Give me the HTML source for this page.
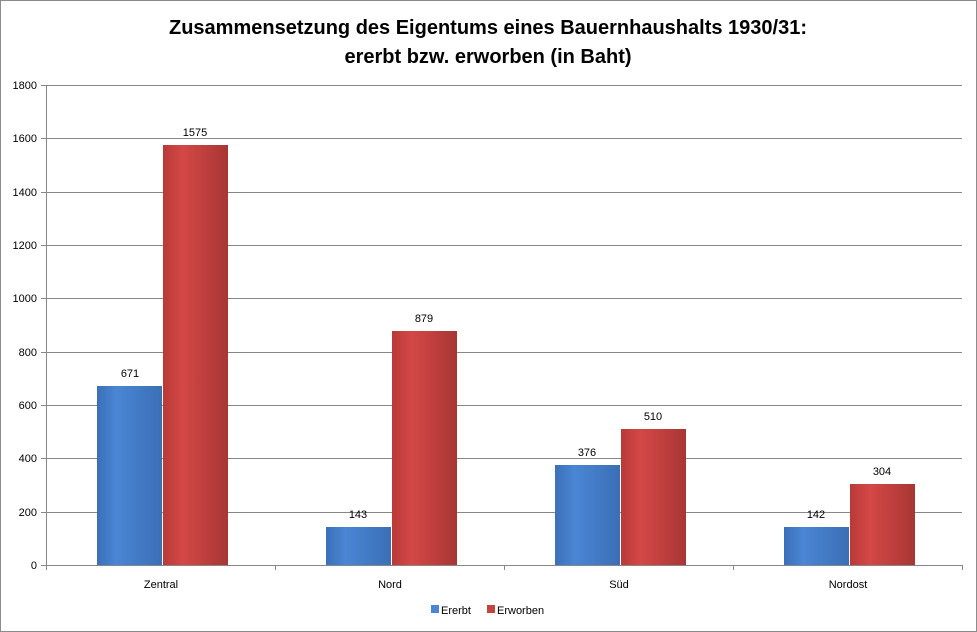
<!DOCTYPE html>
<html><head><meta charset="utf-8"><style>
html,body{margin:0;padding:0;background:#fff}
svg{display:block}
text{font-family:"Liberation Sans",sans-serif;}
</style></head><body>
<svg width="977" height="632" viewBox="0 0 977 632">
<defs>
<linearGradient id="b" x1="0" x2="1" y1="0" y2="0">
<stop offset="0" stop-color="#3a70b8"/><stop offset="0.3" stop-color="#4a86d4"/><stop offset="1" stop-color="#3a6fb5"/>
</linearGradient>
<linearGradient id="r" x1="0" x2="1" y1="0" y2="0">
<stop offset="0" stop-color="#b83a38"/><stop offset="0.3" stop-color="#d44846"/><stop offset="1" stop-color="#a83634"/>
</linearGradient>
<linearGradient id="v" x1="0" x2="0" y1="0" y2="1">
<stop offset="0" stop-color="#fff" stop-opacity="0.08"/><stop offset="1" stop-color="#000" stop-opacity="0.1"/>
</linearGradient>
</defs>
<rect x="0.5" y="0.5" width="976" height="631" fill="#fff" stroke="#8c8c8c"/>
<text x="488" y="34" font-size="20" font-weight="bold" text-anchor="middle">Zusammensetzung des Eigentums eines Bauernhaushalts 1930/31:</text>
<text x="488" y="63" font-size="20" font-weight="bold" text-anchor="middle">ererbt bzw. erworben (in Baht)</text>
<g stroke="#878787" stroke-width="1">
<line x1="46" x2="962" y1="85.5" y2="85.5"/>
<line x1="46" x2="962" y1="138.5" y2="138.5"/>
<line x1="46" x2="962" y1="192.5" y2="192.5"/>
<line x1="46" x2="962" y1="245.5" y2="245.5"/>
<line x1="46" x2="962" y1="298.5" y2="298.5"/>
<line x1="46" x2="962" y1="352.5" y2="352.5"/>
<line x1="46" x2="962" y1="405.5" y2="405.5"/>
<line x1="46" x2="962" y1="458.5" y2="458.5"/>
<line x1="46" x2="962" y1="512.5" y2="512.5"/>
<line x1="46" x2="962" y1="565.5" y2="565.5"/>
<line x1="46.5" x2="46.5" y1="85" y2="570"/>
<line x1="41" x2="46" y1="85.5" y2="85.5"/><line x1="41" x2="46" y1="138.5" y2="138.5"/><line x1="41" x2="46" y1="192.5" y2="192.5"/><line x1="41" x2="46" y1="245.5" y2="245.5"/><line x1="41" x2="46" y1="298.5" y2="298.5"/><line x1="41" x2="46" y1="352.5" y2="352.5"/><line x1="41" x2="46" y1="405.5" y2="405.5"/><line x1="41" x2="46" y1="458.5" y2="458.5"/><line x1="41" x2="46" y1="512.5" y2="512.5"/><line x1="41" x2="46" y1="565.5" y2="565.5"/>
<line x1="275.5" x2="275.5" y1="565" y2="570"/><line x1="504.5" x2="504.5" y1="565" y2="570"/><line x1="733.5" x2="733.5" y1="565" y2="570"/><line x1="962.5" x2="962.5" y1="565" y2="570"/>
</g>
<g font-size="11" text-anchor="end">
<text x="37" y="89">1800</text><text x="37" y="142">1600</text><text x="37" y="196">1400</text><text x="37" y="249">1200</text><text x="37" y="302">1000</text><text x="37" y="356">800</text><text x="37" y="409">600</text><text x="37" y="462">400</text><text x="37" y="516">200</text><text x="37" y="569">0</text>
</g>
<g>
<rect x="97" y="386" width="65" height="179" fill="url(#b)"/>
<rect x="163" y="145" width="65" height="420" fill="url(#r)"/>
<rect x="326" y="527" width="65" height="38" fill="url(#b)"/>
<rect x="392" y="331" width="65" height="234" fill="url(#r)"/>
<rect x="555" y="465" width="65" height="100" fill="url(#b)"/>
<rect x="621" y="429" width="65" height="136" fill="url(#r)"/>
<rect x="784" y="527" width="65" height="38" fill="url(#b)"/>
<rect x="850" y="484" width="65" height="81" fill="url(#r)"/>
</g>
<g font-size="11" text-anchor="middle">
<text x="130" y="377">671</text><text x="195" y="136">1575</text>
<text x="358" y="518">143</text><text x="424" y="322">879</text>
<text x="587" y="456">376</text><text x="653" y="420">510</text>
<text x="816" y="518">142</text><text x="882" y="475">304</text>
<text x="161" y="588">Zentral</text><text x="390" y="588">Nord</text><text x="619" y="588">Süd</text><text x="848" y="588">Nordost</text>
</g>
<rect x="431" y="605" width="8" height="8" fill="#4a86d4"/>
<text x="441" y="614" font-size="11">Ererbt</text>
<rect x="487" y="605" width="8" height="8" fill="#c44442"/>
<text x="497" y="614" font-size="11">Erworben</text>
</svg>
</body></html>
